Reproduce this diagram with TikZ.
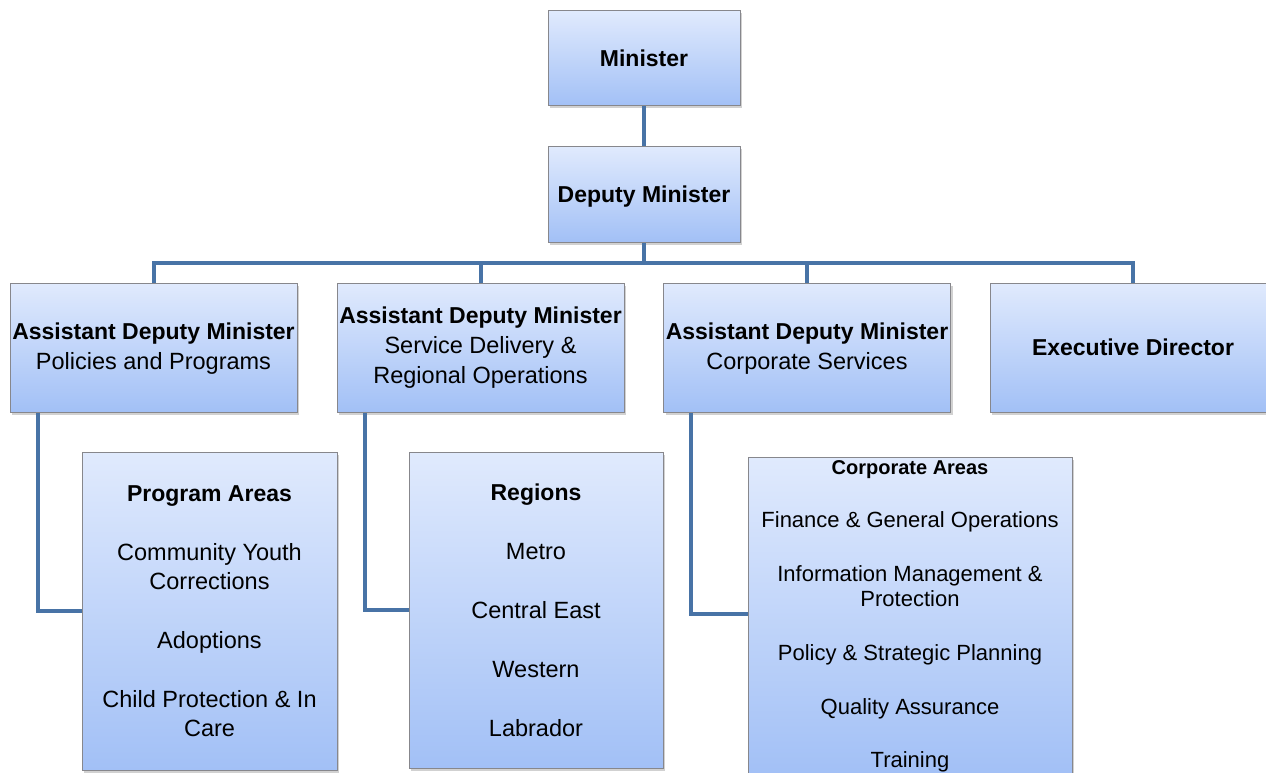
\documentclass[tikz,border=0pt]{standalone}
\usepackage{fontspec}
\setmainfont{Liberation Sans}
\usetikzlibrary{shadows}
\definecolor{topc}{RGB}{224,234,253}
\definecolor{botc}{RGB}{162,192,246}
\definecolor{linec}{RGB}{72,115,166}
\definecolor{borderc}{RGB}{135,135,140}
\tikzset{
  orgbox/.style={draw=borderc, line width=1pt, top color=topc, bottom color=botc,
    align=center, inner sep=0pt, text=black,
    drop shadow={opacity=0.3, shadow xshift=2pt, shadow yshift=-2.5pt, fill=black!60}},
  conn/.style={draw=linec, line width=4pt},
  bt/.style={font=\fontsize{23}{30}\selectfont\bfseries},
}
\newcommand{\rg}{\fontsize{23.5}{29}\selectfont\mdseries}
\newcommand{\sm}{\fontsize{22}{25}\selectfont\mdseries}
\begin{document}
\begin{tikzpicture}[x=1pt,y=-1pt]
\useasboundingbox (0,0) rectangle (1266,773);
\clip (0,0) rectangle (1266,773);
\node[orgbox, minimum width=192pt, minimum height=95pt, bt] (min) at (644,58.5) {Minister};
\node[orgbox, minimum width=192pt, minimum height=95pt, bt, text depth=0pt] (dep) at (644,194.5) {Deputy Minister};
\node[orgbox, minimum width=287pt, minimum height=129pt, bt, text depth=2pt] (adm1) at (153.5,347.5)
  {Assistant Deputy Minister\\[0pt]{\rg Policies and Programs}};
\node[orgbox, minimum width=287pt, minimum height=129pt, bt] (adm2) at (480.5,347.5)
  {Assistant Deputy Minister\\[0pt]{\rg Service Delivery \&}\\[0pt]{\rg Regional Operations}};
\node[orgbox, minimum width=287pt, minimum height=129pt, bt, text depth=2pt] (adm3) at (807,347.5)
  {Assistant Deputy Minister\\[0pt]{\rg Corporate Services}};
\node[orgbox, minimum width=286pt, minimum height=129pt, bt] (exd) at (1133,347.5) {Executive Director};
\node[orgbox, minimum width=255pt, minimum height=318pt, font=\rg] (prog) at (209.5,611)
  {{\bfseries\fontsize{23}{29}\selectfont Program Areas}\\[30pt]Community Youth\\Corrections\\[30pt]Adoptions\\[30pt]Child Protection \& In\\Care};
\node[orgbox, minimum width=254pt, minimum height=316pt, font=\rg] (reg) at (536,610)
  {{\bfseries\fontsize{23}{29}\selectfont Regions}\\[30pt]Metro\\[30pt]Central East\\[30pt]Western\\[30pt]Labrador};
\node[orgbox, minimum width=324pt, minimum height=318pt, font=\sm] (corp) at (910,616)
  {{\bfseries\fontsize{20}{25}\selectfont Corporate Areas}\\[28pt]Finance \& General Operations\\[29pt]Information Management \&\\Protection\\[29pt]Policy \& Strategic Planning\\[29pt]Quality Assurance\\[28pt]Training};
\coordinate (bus) at (644,263);
\draw[conn] (min.south) -- (dep.north);
\draw[conn] (dep.south) -- (bus);
\draw[conn] (bus) -| (adm1.north);
\draw[conn] (bus) -| (adm2.north);
\draw[conn] (bus) -| (adm3.north);
\draw[conn] (bus) -| (exd.north);
\draw[conn] ([xshift=28pt]adm1.south west) |- (prog.west);
\draw[conn] ([xshift=28pt]adm2.south west) |- (reg.west);
\draw[conn] ([xshift=28pt]adm3.south west) |- ([yshift=2pt]corp.west);
\end{tikzpicture}
\end{document}
